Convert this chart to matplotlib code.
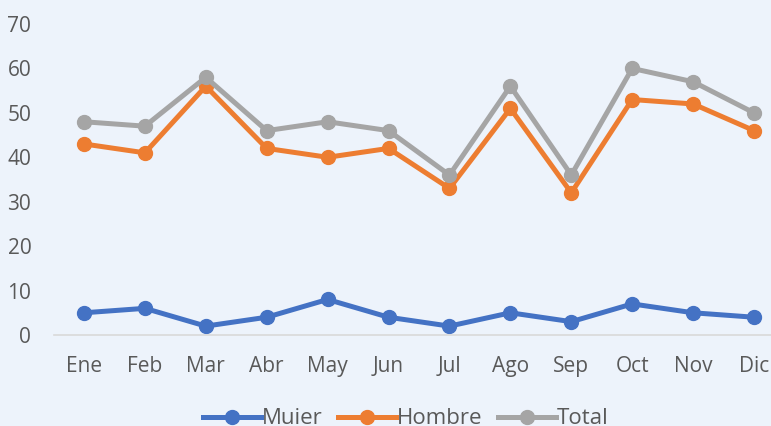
import matplotlib.pyplot as plt
from matplotlib.lines import Line2D

meses = ["Ene", "Feb", "Mar", "Abr", "May", "Jun", "Jul", "Ago", "Sep", "Oct", "Nov", "Dic"]
muier = [5, 6, 2, 4, 8, 4, 2, 5, 3, 7, 5, 4]
hombre = [43, 41, 56, 42, 40, 42, 33, 51, 32, 53, 52, 46]
total = [48, 47, 58, 46, 48, 46, 36, 56, 36, 60, 57, 50]

BG = "#EDF3FB"
plt.rcParams['font.family'] = ['Open Sans', 'DejaVu Sans']

fig = plt.figure(figsize=(7.71, 4.26), dpi=100, facecolor=BG)
# axes run off the right edge like in the original
ax = fig.add_axes([53.5 / 771, (426 - 335) / 426, 731 / 771, 311 / 426])
ax.set_facecolor(BG)

x = range(len(meses))
series = [(muier, "#4472C4", "Muier"), (hombre, "#ED7D31", "Hombre"), (total, "#A5A5A5", "Total")]
for vals, col, lab in series:
    ax.plot(x, vals, color=col, lw=3.6, marker="o", ms=10, label=lab, solid_capstyle="round")

ax.set_xlim(-0.5, len(meses) - 0.5)
ax.set_ylim(0, 70)
ax.set_yticks(range(0, 71, 10))
ax.set_xticks(list(x))
ax.set_xticklabels(meses)
for s in ["top", "right", "left"]:
    ax.spines[s].set_visible(False)
ax.spines["bottom"].set_color("#D9D9D9")
ax.spines["bottom"].set_linewidth(1.2)
ax.tick_params(length=0, labelsize=15, labelcolor="#595959")
ax.tick_params(axis="x", pad=15)
ax.tick_params(axis="y", pad=16)

handles = [Line2D([], [], color=c, lw=3.6, marker="o", ms=10) for _, c, _ in series]
fig.legend(handles, [l for _, _, l in series], loc="center", bbox_to_anchor=(406 / 771, 1 - 419 / 426),
           ncol=3, frameon=False, fontsize=16, labelcolor="#595959", handlelength=2.6,
           handletextpad=0.05, columnspacing=0.7)

fig.savefig("out.png", dpi=100, facecolor=BG)
